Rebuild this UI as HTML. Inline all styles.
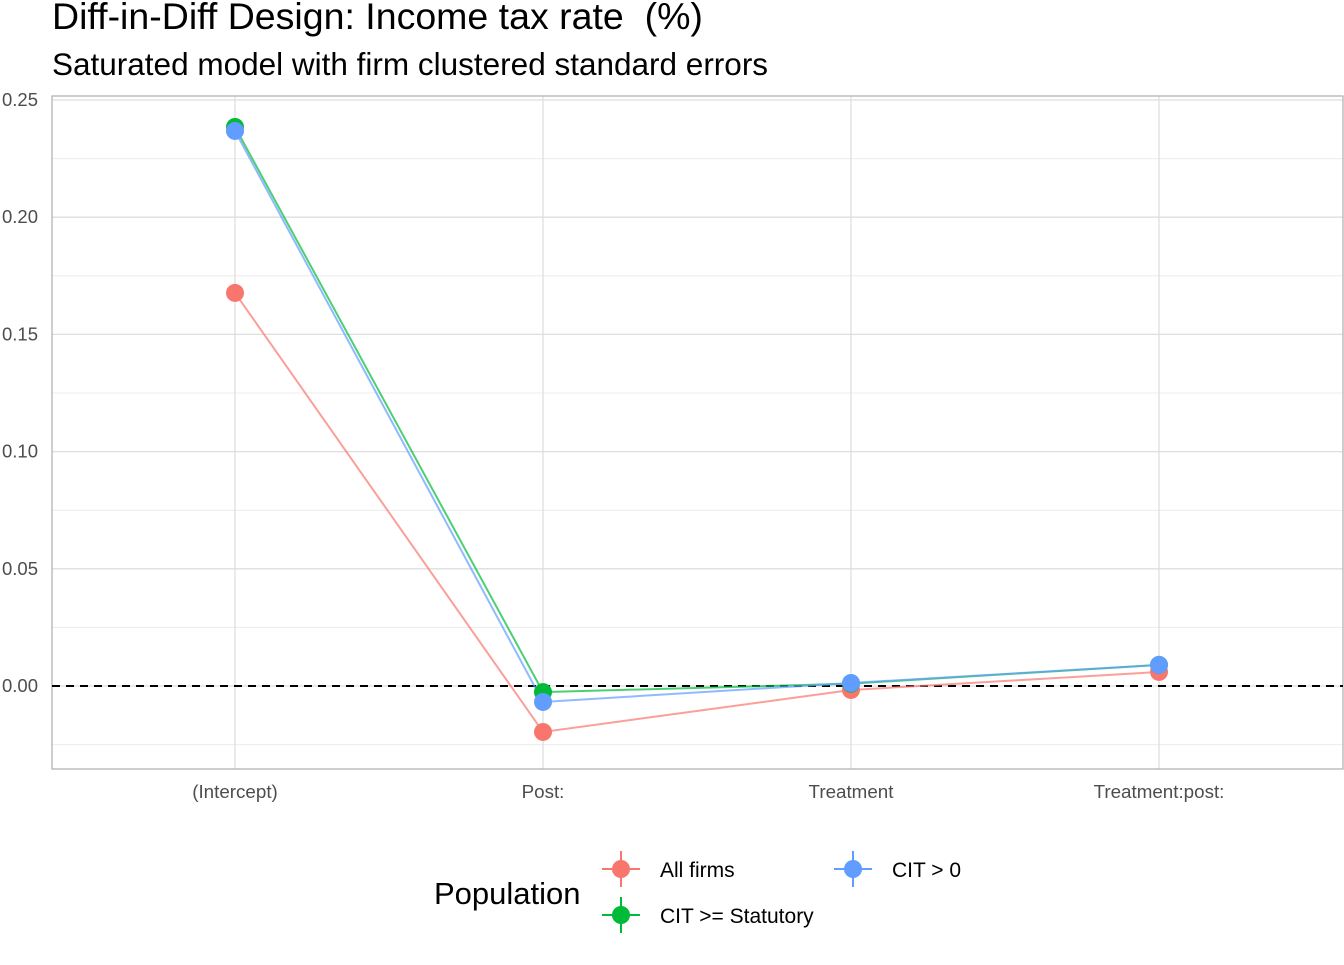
<!DOCTYPE html>
<html><head><meta charset="utf-8"><style>
body{margin:0;background:#fff;font-family:"Liberation Sans",Arial,sans-serif}
svg text{font-family:"Liberation Sans",Arial,sans-serif}
</style></head><body>
<svg id="chart" width="1344" height="960" xmlns="http://www.w3.org/2000/svg">
<text x="52" y="29" font-size="37.5" fill="#000">Diff-in-Diff Design: Income tax rate &#160;(%)</text>
<text x="52" y="75" font-size="31.5" fill="#000">Saturated model with firm clustered standard errors</text>
<g id="grid"></g>
<rect x="52" y="96" width="1291" height="673" fill="none" stroke="#b3b3b3" stroke-width="1.3"/>
<g id="marks"></g>
<g id="legend">
<text x="434" y="904" font-size="31">Population</text>
<g><line x1="602" y1="869" x2="640" y2="869" stroke="#F8766D" stroke-width="2"/><line x1="621" y1="851" x2="621" y2="887" stroke="#F8766D" stroke-width="2"/><circle cx="621" cy="869" r="9" fill="#F8766D"/><text x="660" y="877" font-size="21">All firms</text></g>
<g><line x1="602" y1="915" x2="640" y2="915" stroke="#00BA38" stroke-width="2"/><line x1="621" y1="897" x2="621" y2="933" stroke="#00BA38" stroke-width="2"/><circle cx="621" cy="915" r="9" fill="#00BA38"/><text x="660" y="923" font-size="21">CIT &gt;= Statutory</text></g>
<g><line x1="834" y1="869" x2="872" y2="869" stroke="#619CFF" stroke-width="2"/><line x1="853" y1="851" x2="853" y2="887" stroke="#619CFF" stroke-width="2"/><circle cx="853" cy="869" r="9" fill="#619CFF"/><text x="892" y="877" font-size="21">CIT &gt; 0</text></g>
</g>
</svg>
<script>
const categories=["(Intercept)","Post:","Treatment","Treatment:post:"];
const allFirms=[0.1677,-0.0196,-0.0017,0.006];
const citStatutory=[0.2385,-0.0026,0.001,0.009];
const citPositive=[0.2368,-0.0068,0.0013,0.009];
const yTicks=[0,0.05,0.10,0.15,0.20,0.25];
const yTickLabels=["0.00","0.05","0.10","0.15","0.20","0.25"];
const ns="http://www.w3.org/2000/svg";
const y=v=>686-v*(586/0.25);
const x=i=>235+i*308;
function mk(t,a,p){const e=document.createElementNS(ns,t);for(const k in a)e.setAttribute(k,a[k]);p.appendChild(e);return e;}
const grid=document.getElementById('grid');
for(let v=-0.025;v<=0.26;v+=0.025){
  const yy=y(v);if(yy<96||yy>769)continue;
  const major=Math.abs(Math.round(v/0.05)*0.05-v)<1e-6;
  const l=mk('line',{x1:52,x2:1343,y1:yy,y2:yy,stroke:major?'#dedede':'#ececec','stroke-width':major?1.3:1},grid);
  
  
}
yTicks.forEach((v,i)=>{
  const t=mk('text',{x:38,y:y(v)+6,'font-size':18.5,fill:'#4d4d4d','text-anchor':'end'},grid);
  t.textContent=yTickLabels[i];
  
  
});
categories.forEach((c,i)=>{
  const l=mk('line',{x1:x(i),x2:x(i),y1:96,y2:769,stroke:'#dedede','stroke-width':1.3},grid);
  
  
  const t=mk('text',{x:x(i),y:798,'font-size':18.8,fill:'#4d4d4d','text-anchor':'middle'},grid);
  t.textContent=c;
  
  
});
const marks=document.getElementById('marks');
const zl=mk('line',{x1:52,x2:1343,y1:y(0),y2:y(0),stroke:'#000','stroke-width':2,'stroke-dasharray':'8,6'},marks);


const series=[["all-firms",allFirms,"#F8766D"],["cit-statutory",citStatutory,"#00BA38"],["cit-positive",citPositive,"#619CFF"]];
series.forEach(([n,vals,col])=>{
  const p=mk('polyline',{points:vals.map((v,i)=>x(i)+','+y(v)).join(' '),fill:'none',stroke:col,'stroke-width':2,'stroke-opacity':0.7},marks);
  
  
});
series.forEach(([n,vals,col])=>{
  vals.forEach((v,i)=>{
    const c=mk('circle',{cx:x(i),cy:y(v),r:9,fill:col},marks);
    
    
  });
});
</script>
</body></html>
